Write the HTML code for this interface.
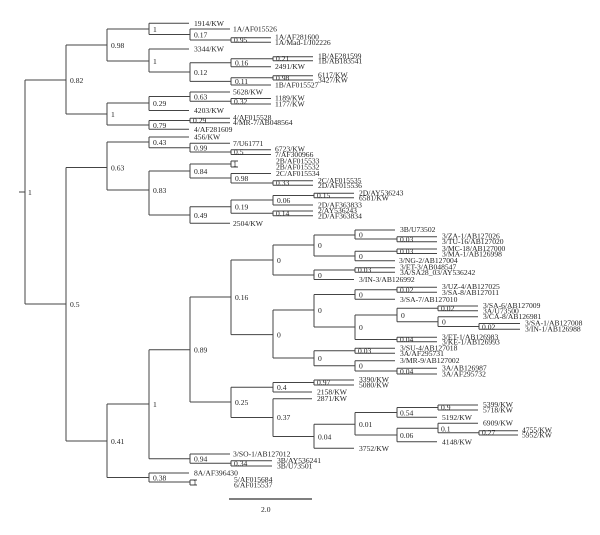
<!DOCTYPE html>
<html><head><meta charset="utf-8"><style>
html,body{margin:0;padding:0;background:#fff;}
svg{display:block;}
text{font-family:"Liberation Serif",serif;font-size:7.6px;fill:#222;}
</style></head><body>
<svg width="600" height="535" viewBox="0 0 600 535" xmlns="http://www.w3.org/2000/svg">
<g stroke="#444" stroke-width="1" fill="none">
<!-- root -->
<path d="M25 80V304M19 192H25M25 80H66M25 304H66"/>
<!-- 0.82 -->
<path d="M66 45V114M66 45H107M66 114H107"/>
<path d="M107 29V61M107 29H149M107 61H149"/>
<path d="M149 23.3V34.5M149 23.3H189M149 34.5H190"/>
<path d="M190 29V40M190 29H230M190 40H231"/>
<path d="M231 37.7V42.3M231 37.7H271M231 42.3H271"/>
<path d="M149 49V72M149 49H189M149 72H190"/>
<path d="M190 62.7V81.4M190 62.7H231M190 81.4H231"/>
<path d="M231 58.7V66.7M231 58.7H273M231 66.7H271"/>
<path d="M273 56.7V60.7M273 56.7H313M273 60.7H313"/>
<path d="M231 77.8V85M231 77.8H273M231 85H271"/>
<path d="M273 75.7V80M273 75.7H313M273 80H313"/>
<path d="M107 103V125M107 103H149M107 125H149"/>
<path d="M149 96.5V110.5M149 96.5H190M149 110.5H189"/>
<path d="M190 92V101.2M190 92H230M190 101.2H231"/>
<path d="M231 98.5V104M231 98.5H271M231 104H271"/>
<path d="M149 120.5V129.3M149 120.5H190M149 129.3H189"/>
<path d="M190 118.3V122.7M190 118.3H230M190 122.7H230"/>
<!-- 0.5 -->
<path d="M66 167.5V441M66 167.5H107M66 441H107"/>
<path d="M107 142V190M107 142H149M107 190H149"/>
<path d="M149 137V147.7M149 137H189M149 147.7H190"/>
<path d="M190 143.3V152M190 143.3H230M190 152H231"/>
<path d="M231 149.7V154.5M231 149.7H271M231 154.5H271"/>
<path d="M149 171V215M149 171H190M149 215H190"/>
<path d="M190 164V178M190 164H231M190 178H231"/>
<path d="M231 161V167M231 161H238M231 167H238"/>
<path d="M231 173.5V183M231 173.5H271M231 183H273"/>
<path d="M273 180.7V185.3M273 180.7H313M273 185.3H313"/>
<path d="M190 206.7V223.3M190 206.7H231M190 223.3H230"/>
<path d="M231 200V213.3M231 200H273M231 213.3H273"/>
<path d="M273 195.5V205M273 195.5H314M273 205H313"/>
<path d="M314 193.3V197.7M314 193.3H354M314 197.7H354"/>
<path d="M273 211V215.7M273 211H313M273 215.7H313"/>
<!-- 0.41 -->
<path d="M107 404V477.5M107 404H149M107 477.5H149"/>
<path d="M149 349.7V458.7M149 349.7H190M149 458.7H190"/>
<path d="M190 297V402M190 297H231M190 402H231"/>
<path d="M231 260V334.6M231 260H273M231 334.6H273"/>
<path d="M273 245V275M273 245H314M273 275H314"/>
<path d="M314 235V256M314 235H355M314 256H355"/>
<path d="M355 230V239M355 230H395M355 239H397"/>
<path d="M397 236.7V241.7M397 236.7H437M397 241.7H437"/>
<path d="M355 251.3V260.7M355 251.3H397M355 260.7H395"/>
<path d="M397 249V253.5M397 249H437M397 253.5H437"/>
<path d="M314 270V279.5M314 270H355M314 279.5H354"/>
<path d="M355 267.7V272.3M355 267.7H395M355 272.3H395"/>
<path d="M273 310V358M273 310H314M273 358H314"/>
<path d="M314 294.5V327M314 294.5H355M314 327H355"/>
<path d="M355 289.8V299.3M355 289.8H397M355 299.3H395"/>
<path d="M397 287.3V292.3M397 287.3H437M397 292.3H437"/>
<path d="M355 315V339.5M355 315H397M355 339.5H397"/>
<path d="M397 308.3V321.7M397 308.3H438M397 321.7H438"/>
<path d="M438 306V310.7M438 306H478M438 310.7H478"/>
<path d="M438 316.7V326.5M438 316.7H478M438 326.5H479"/>
<path d="M479 323.5V329.3M479 323.5H520M479 329.3H520"/>
<path d="M397 337.3V341.7M397 337.3H437M397 341.7H437"/>
<path d="M314 350.8V365.8M314 350.8H355M314 365.8H355"/>
<path d="M355 348.3V353.3M355 348.3H395M355 353.3H395"/>
<path d="M355 360.7V371M355 360.7H395M355 371H397"/>
<path d="M397 368.3V374M397 368.3H437M397 374H437"/>
<path d="M231 387.3V417.5M231 387.3H273M231 417.5H273"/>
<path d="M273 382.5V392M273 382.5H314M273 392H312"/>
<path d="M314 380V385M314 380H354M314 385H354"/>
<path d="M273 398.7V436.5M273 398.7H312M273 436.5H314"/>
<path d="M314 424.3V448.3M314 424.3H355M314 448.3H354"/>
<path d="M355 412.5V435M355 412.5H397M355 435H397"/>
<path d="M397 407.5V417.3M397 407.5H438M397 417.3H437"/>
<path d="M438 405V410M438 405H478M438 410H478"/>
<path d="M397 428.3V441.7M397 428.3H438M397 441.7H437"/>
<path d="M438 423.3V432.8M438 423.3H478M438 432.8H479"/>
<path d="M479 430.7V435M479 430.7H518M479 435H518"/>
<path d="M190 454V463.3M190 454H230M190 463.3H231"/>
<path d="M231 460.7V466M231 460.7H272M231 466H272"/>
<path d="M149 473V482M149 473H189M149 482H190"/>
<path d="M190 480V485M190 480H197M190 485H197"/>
</g>
<path d="M229 499H312" stroke="#555" stroke-width="1.5"/>
<text x="261" y="512">2.0</text>

<!-- node labels -->
<text x="28" y="195">1</text>
<text x="70" y="83">0.82</text>
<text x="111" y="48">0.98</text>
<text x="153" y="32">1</text>
<text x="194" y="37.5">0.17</text>
<text x="234" y="42.5">0.95</text>
<text x="153" y="64">1</text>
<text x="194" y="75">0.12</text>
<text x="235" y="65.5">0.16</text>
<text x="276" y="61">0.21</text>
<text x="235" y="84">0.11</text>
<text x="276" y="80.3">0.98</text>
<text x="111" y="117">1</text>
<text x="153" y="106">0.29</text>
<text x="194" y="99.5">0.63</text>
<text x="234" y="104">0.32</text>
<text x="153" y="128">0.79</text>
<text x="193" y="123">0.29</text>
<text x="70" y="307">0.5</text>
<text x="111" y="170.5">0.63</text>
<text x="153" y="145">0.43</text>
<text x="194" y="150.5">0.99</text>
<text x="234" y="154.5">0.5</text>
<text x="153" y="193">0.83</text>
<text x="194" y="174">0.84</text>
<text x="233" y="166.5">1</text>
<text x="235" y="181">0.98</text>
<text x="276" y="185.5">0.33</text>
<text x="194" y="218">0.49</text>
<text x="235" y="209.5">0.19</text>
<text x="277" y="203">0.06</text>
<text x="317" y="198">0.15</text>
<text x="276" y="216">0.14</text>
<text x="111" y="444">0.41</text>
<text x="153" y="407">1</text>
<text x="194" y="352.5">0.89</text>
<text x="235" y="300">0.16</text>
<text x="277" y="263">0</text>
<text x="318" y="248">0</text>
<text x="359" y="237.5">0</text>
<text x="400" y="241.8">0.03</text>
<text x="359" y="259">0</text>
<text x="400" y="254">0.03</text>
<text x="318" y="278">0</text>
<text x="358" y="272.5">0.03</text>
<text x="277" y="337.5">0</text>
<text x="318" y="313">0</text>
<text x="359" y="297.5">0</text>
<text x="400" y="292.5">0.02</text>
<text x="359" y="330">0</text>
<text x="401" y="318">0</text>
<text x="441" y="311">0.02</text>
<text x="442" y="324.5">0</text>
<text x="482" y="329.5">0.02</text>
<text x="400" y="342">0.04</text>
<text x="318" y="361">0</text>
<text x="358" y="353.5">0.03</text>
<text x="359" y="368.5">0</text>
<text x="400" y="374">0.04</text>
<text x="235" y="405">0.25</text>
<text x="277" y="390">0.4</text>
<text x="317" y="385">0.97</text>
<text x="277" y="420">0.37</text>
<text x="318" y="439.5">0.04</text>
<text x="359" y="427">0.01</text>
<text x="400" y="415.5">0.54</text>
<text x="441" y="410">0.9</text>
<text x="400" y="438">0.06</text>
<text x="441" y="431.5">0.1</text>
<text x="482" y="435">0.27</text>
<text x="194" y="461.5">0.94</text>
<text x="234" y="466">0.34</text>
<text x="153" y="480.5">0.38</text>
<text x="193" y="485">1</text>

<!-- leaf labels -->
<text x="194" y="26">1914/KW</text>
<text x="233" y="31.5">1A/AF015526</text>
<text x="275" y="39.5">1A/AF281600</text>
<text x="275" y="45">1A/Mad-1/J02226</text>
<text x="194" y="51.5">3344/KW</text>
<text x="318" y="58.5">1B/AF281599</text>
<text x="318" y="63.5">1B/AB183541</text>
<text x="275" y="69.2">2491/KW</text>
<text x="318" y="77.5">6117/KW</text>
<text x="318" y="82.5">3427/KW</text>
<text x="275" y="87.5">1B/AF015527</text>
<text x="233" y="94.5">5628/KW</text>
<text x="275" y="100.5">1189/KW</text>
<text x="275" y="106.5">1177/KW</text>
<text x="194" y="113">4203/KW</text>
<text x="233" y="120">4/AF015528</text>
<text x="233" y="125">4/MR-7/AB048564</text>
<text x="194" y="131.8">4/AF281609</text>
<text x="194" y="139.5">456/KW</text>
<text x="233" y="145.8">7/U61771</text>
<text x="275" y="151.5">6723/KW</text>
<text x="275" y="157">7/AF300966</text>
<text x="276" y="163.5">2B/AF015533</text>
<text x="276" y="169.5">2B/AF015532</text>
<text x="276" y="176">2C/AF015534</text>
<text x="318" y="182.8">2C/AF015535</text>
<text x="318" y="188">2D/AF015536</text>
<text x="359" y="195.3">2D/AY536243</text>
<text x="359" y="200.3">6581/KW</text>
<text x="318" y="207.5">2D/AF363833</text>
<text x="318" y="213">2/AY536243</text>
<text x="318" y="218.3">2D/AF363834</text>
<text x="233" y="226">2504/KW</text>
<text x="400" y="232">3B/U73502</text>
<text x="442" y="238.7">3/ZA-1/AB127026</text>
<text x="442" y="244.2">3/TU-16/AB127020</text>
<text x="442" y="251">3/MC-18/AB127000</text>
<text x="442" y="256.3">3/MA-1/AB126998</text>
<text x="399" y="263.2">3/NG-2/AB127004</text>
<text x="400" y="269.5">3/ET-3/AB048547</text>
<text x="400" y="275">3A/SA28_03/AY536242</text>
<text x="359" y="282">3/IN-3/AB126992</text>
<text x="442" y="289.2">3/UZ-4/AB127025</text>
<text x="442" y="295">3/SA-8/AB127011</text>
<text x="400" y="301.8">3/SA-7/AB127010</text>
<text x="483" y="308">3/SA-6/AB127009</text>
<text x="483" y="313.3">3A/U73500</text>
<text x="483" y="319">3/CA-8/AB126981</text>
<text x="525" y="325.5">3/SA-1/AB127008</text>
<text x="525" y="331.5">3/IN-1/AB126988</text>
<text x="442" y="339.5">3/ET-1/AB126983</text>
<text x="442" y="344.3">3/KE-1/AB126993</text>
<text x="400" y="350.5">3/SU-4/AB127018</text>
<text x="400" y="355.8">3A/AF295731</text>
<text x="400" y="363">3/MR-9/AB127002</text>
<text x="442" y="370.5">3A/AB126987</text>
<text x="442" y="376.5">3A/AF295732</text>
<text x="359" y="382">3390/KW</text>
<text x="359" y="387.5">5080/KW</text>
<text x="317" y="394.5">2158/KW</text>
<text x="317" y="401">2871/KW</text>
<text x="483" y="407">5399/KW</text>
<text x="483" y="412.5">5718/KW</text>
<text x="442" y="419.8">5192/KW</text>
<text x="483" y="425.5">6909/KW</text>
<text x="522" y="432.5">4755/KW</text>
<text x="522" y="437.5">5952/KW</text>
<text x="442" y="444.3">4148/KW</text>
<text x="359" y="450.8">3752/KW</text>
<text x="233" y="456.3">3/SO-1/AB127012</text>
<text x="277" y="462.8">3B/AY536241</text>
<text x="277" y="468.5">3B/U73501</text>
<text x="194" y="475.5">8A/AF396430</text>
<text x="234" y="482">5/AF015684</text>
<text x="234" y="487.5">6/AF015537</text>
</svg>
</body></html>
